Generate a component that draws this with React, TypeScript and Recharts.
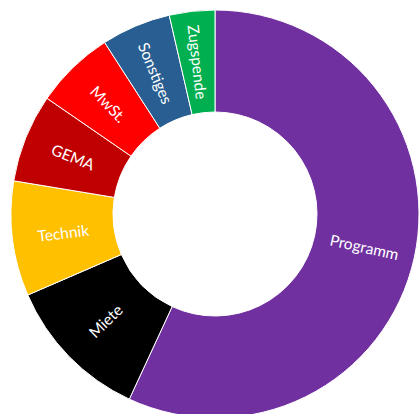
import { PieChart, Pie, Cell } from "recharts";

const categories = ["Programm", "Miete", "Technik", "GEMA", "MwSt.", "Sonstiges", "Zugspende"];
const shares = [56.9, 11.6, 9.1, 7.0, 6.3, 5.5, 3.6];
const colors = ["#7030A0", "#000000", "#FFC000", "#C00000", "#FF0000", "#285E91", "#00B050"];

const data = categories.map((name, i) => ({ name, value: shares[i] }));

const RAD = Math.PI / 180;

function renderLabel(props: any) {
  const { cx, cy, midAngle, innerRadius, outerRadius, name } = props;
  const r = (innerRadius + outerRadius) / 2;
  const x = cx + r * Math.cos(-midAngle * RAD);
  const y = cy + r * Math.sin(-midAngle * RAD);
  // keep text radial but readable
  let rot = -midAngle;
  while (rot > 90) rot -= 180;
  while (rot <= -90) rot += 180;
  return (
    <text
      x={x}
      y={y}
      fill="#fff"
      fontSize={15.5}
      fontFamily="Lato, 'Open Sans', sans-serif"
      textAnchor="middle"
      dominantBaseline="central"
      transform={`rotate(${rot}, ${x}, ${y})`}
    >
      {name}
    </text>
  );
}

export default function App() {
  return (
    <div style={{ position: "absolute", left: 0, top: 0, width: 420, height: 414, background: "#fff" }}>
      <PieChart width={420} height={414} margin={{ top: 0, right: 0, bottom: 0, left: 0 }}>
        <Pie
          data={data}
          dataKey="value"
          nameKey="name"
          cx={215}
          cy={214}
          innerRadius={102}
          outerRadius={204}
          startAngle={90}
          endAngle={-270}
          stroke="#fff"
          strokeWidth={1}
          label={renderLabel}
          labelLine={false}
          isAnimationActive={false}
        >
          {data.map((d, i) => (
            <Cell key={d.name} fill={colors[i]} />
          ))}
        </Pie>
      </PieChart>
    </div>
  );
}
